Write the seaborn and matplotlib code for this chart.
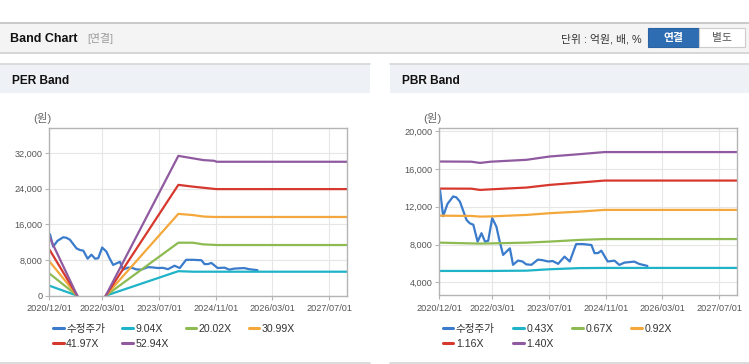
import matplotlib
matplotlib.use('Agg')
import numpy as np
import pandas as pd
import matplotlib.pyplot as plt
import matplotlib.dates as mdates
import seaborn as sns
from matplotlib.patches import Rectangle
from matplotlib.lines import Line2D

# adjusted share price (shared by both charts)
price_dates = ['2020-12-07', '2021-01-03', '2021-02-09', '2021-03-30', '2021-04-26', '2021-05-27',
               '2021-07-23', '2021-08-20', '2021-09-19', '2021-10-26', '2021-11-28', '2021-12-29',
               '2022-01-25', '2022-02-28', '2022-04-05', '2022-05-02', '2022-06-02', '2022-07-30',
               '2022-08-26', '2022-10-08', '2022-11-16', '2022-12-17', '2023-01-31', '2023-03-27',
               '2023-05-03', '2023-06-24', '2023-08-02', '2023-09-17', '2023-11-11', '2023-12-26',
               '2024-02-19', '2024-04-17', '2024-06-29', '2024-07-26', '2024-08-26', '2024-09-22',
               '2024-11-16', '2025-01-13', '2025-02-24', '2025-04-08', '2025-07-02', '2025-08-14',
               '2025-10-23']
price_values = [13800, 11000, 12300, 13100, 13000, 12550,
                10600, 10250, 10100, 8300, 9200, 8300,
                8400, 10800, 9900, 8400, 6900, 7600,
                5850, 6300, 6200, 5900, 5850, 6400,
                6350, 6200, 6250, 5950, 6720, 6200,
                8050, 8050, 7950, 7080, 7100, 7350,
                6200, 6290, 5840, 6080, 6190, 5940,
                5730]

# PER band
per_dates = ['2020-12-01', '2021-07-29', '2022-03-30', '2023-12-14', '2024-04-17',
             '2024-07-17', '2024-10-16', '2024-11-07', '2027-12-01']
per_seg = [0, 0, 1, 1, 1, 1, 1, 1, 1]
per_names = ['9.04X', '20.02X', '30.99X', '41.97X', '52.94X']
per_904 = [2250, 0, 0, 5500, 5380, 5380, 5380, 5380, 5380]
per_2002 = [5000, 0, 0, 11880, 11880, 11500, 11400, 11360, 11360]
per_3099 = [7750, 0, 0, 18350, 18080, 17750, 17650, 17650, 17650]
per_4197 = [10400, 0, 0, 24850, 24450, 24200, 23950, 23900, 23900]
per_5294 = [13200, 0, 0, 31350, 30800, 30400, 30250, 30030, 30030]

# PBR band
pbr_dates = ['2020-12-01', '2021-09-01', '2021-11-16', '2022-02-15', '2022-12-20',
             '2023-07-06', '2024-03-20', '2024-10-19', '2027-12-01']
pbr_names = ['0.43X', '0.67X', '0.92X', '1.16X', '1.40X']
pbr_043 = [5200, 5200, 5200, 5200, 5230, 5380, 5500, 5520, 5520]
pbr_067 = [8200, 8120, 8100, 8120, 8200, 8310, 8490, 8580, 8580]
pbr_092 = [11060, 11030, 10960, 10980, 11140, 11320, 11490, 11670, 11670]
pbr_116 = [13930, 13920, 13790, 13850, 14040, 14320, 14570, 14780, 14780]
pbr_140 = [16800, 16780, 16650, 16780, 16980, 17330, 17580, 17800, 17800]

price_name = '수정주가'
x_ticks = ['2020-12-01', '2022-03-01', '2023-07-01', '2024-11-01', '2026-03-01', '2027-07-01']
per_yticks = [0, 8000, 16000, 24000, 32000]
pbr_yticks = [4000, 8000, 12000, 16000, 20000]
colors = ['#3a7bcc', '#1fb3c8', '#8dbb52', '#f4a83c', '#d6382e', '#8f5a9f']

W, H = 749, 364


def fx(px):
    return px / W


def fy(py):
    return 1 - py / H


def long_frame(band_dates, seg, names, bands):
    rows = []
    for d, v in zip(price_dates, price_values):
        rows.append((d, v, price_name, 0))
    for name, vals in zip(names, bands):
        for d, s, v in zip(band_dates, seg, vals):
            rows.append((d, v, name, s))
    df = pd.DataFrame(rows, columns=['date', 'value', 'series', 'seg'])
    df['date'] = pd.to_datetime(df['date'])
    return df


per_df = long_frame(per_dates, per_seg, per_names, [per_904, per_2002, per_3099, per_4197, per_5294])
pbr_df = long_frame(pbr_dates, [0] * len(pbr_dates), pbr_names, [pbr_043, pbr_067, pbr_092, pbr_116, pbr_140])

sns.set_theme(style='white')
plt.rcParams['font.family'] = ['Liberation Sans', 'Noto Sans CJK KR']

fig = plt.figure(figsize=(7.49, 3.64), dpi=100)
fig.patch.set_facecolor('white')

# page header
fig.add_artist(Rectangle((0, fy(52)), 1, 30 / H, transform=fig.transFigure,
                         facecolor='#f4f4f4', edgecolor='none'))
fig.add_artist(Line2D([0, 1], [fy(22.5)] * 2, color='#c2c2c2', lw=1.2))
fig.add_artist(Line2D([0, 1], [fy(52.5)] * 2, color='#cfcfcf', lw=1.2))
fig.text(fx(10), fy(39), 'Band Chart', fontsize=9, fontweight='bold', va='center', color='#111111')
fig.text(fx(87), fy(39), '[연결]', fontsize=7.8, va='center', color='#9a9a9a')
fig.text(fx(642), fy(39), '단위 : 억원, 배, %', ha='right', va='center', fontsize=7.8, color='#333333')
fig.add_artist(Rectangle((fx(648), fy(47)), 51 / W, 19 / H, transform=fig.transFigure,
                         facecolor='#2f6db3', edgecolor='#2a63a3', lw=0.8))
fig.add_artist(Rectangle((fx(699), fy(47)), 46 / W, 19 / H, transform=fig.transFigure,
                         facecolor='white', edgecolor='#cccccc', lw=0.8))
fig.text(fx(673.5), fy(37.5), '연결', ha='center', va='center', fontsize=7.8, fontweight='bold', color='white')
fig.text(fx(722), fy(37.5), '별도', ha='center', va='center', fontsize=7.8, color='#555555')

# panel frames
for x0, x1, title in [(0, 370, 'PER Band'), (390, 749, 'PBR Band')]:
    fig.add_artist(Rectangle((fx(x0), fy(93)), (x1 - x0) / W, 29 / H, transform=fig.transFigure,
                             facecolor='#eef1f6', edgecolor='none'))
    fig.add_artist(Line2D([fx(x0), fx(x1)], [fy(64)] * 2, color='#d6d6d6', lw=1.2))
    fig.add_artist(Line2D([fx(x0), fx(x1)], [fy(363)] * 2, color='#d6d6d6', lw=1.2))
    fig.text(fx(x0 + 12), fy(80.5), title, fontsize=8.6, fontweight='bold', va='center', color='#111111')


def draw(ax, df, names, yticks, ylim, legend_x, colspace):
    order = [price_name] + names
    sns.lineplot(data=df, x='date', y='value', hue='series', hue_order=order,
                 palette=colors, units='seg', estimator=None, linewidth=1.6, ax=ax)
    ax.set_xlim(pd.Timestamp('2020-12-01'), pd.Timestamp('2027-12-01'))
    ax.set_xticks(pd.to_datetime(x_ticks))
    ax.xaxis.set_major_formatter(mdates.DateFormatter('%Y/%m/%d'))
    ax.set_yticks(yticks)
    ax.set_yticklabels([f'{v:,}' for v in yticks])
    ax.set_ylim(*ylim)
    ax.set_xlabel('')
    ax.set_ylabel('')
    ax.grid(True, color='#e6e6e6', lw=0.8)
    ax.set_axisbelow(True)
    for s in ax.spines.values():
        s.set_color('#b4b4b4')
        s.set_linewidth(1.0)
    ax.tick_params(bottom=True, left=True, length=3, width=0.8, color='#b4b4b4',
                   labelsize=6.6, labelcolor='#555555')
    ax.tick_params(axis='x', pad=3.2)
    ax.tick_params(axis='y', pad=2)
    handles, labels = ax.get_legend_handles_labels()
    ax.get_legend().remove()
    # matplotlib fills legend columns first; reorder so rows read left to right
    idx = [0, 4, 1, 5, 2, 3]
    leg = ax.legend([handles[i] for i in idx], [labels[i] for i in idx], ncol=4, loc='upper left',
                    bbox_to_anchor=(fx(legend_x), fy(324)), bbox_transform=fig.transFigure,
                    frameon=False, fontsize=7.6, handlelength=1.0, handletextpad=0.25,
                    columnspacing=colspace, labelspacing=0.45, borderpad=0, borderaxespad=0)
    for line in leg.get_lines():
        line.set_linewidth(2.2)
    for t in leg.get_texts():
        t.set_color('#333333')


ax1 = fig.add_axes([fx(49.3), fy(295.7), (347 - 49.3) / W, (295.7 - 128) / H])
draw(ax1, per_df, per_names, per_yticks, (0, 37600), 53, 1.6)
fig.text(fx(33), fy(118), '(원)', fontsize=8.2, va='center', color='#666666')

ax2 = fig.add_axes([fx(439.3), fy(295), (737 - 439.3) / W, (295 - 128.3) / H])
draw(ax2, pbr_df, pbr_names, pbr_yticks, (2650, 20320), 442.7, 1.75)
fig.text(fx(423), fy(118), '(원)', fontsize=8.2, va='center', color='#666666')

fig.savefig('out.png', dpi=100)
